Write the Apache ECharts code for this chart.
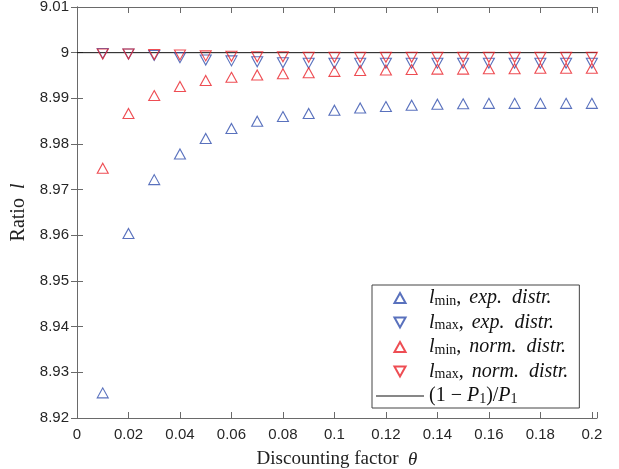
<!DOCTYPE html>
<html>
<head>
<meta charset="utf-8">
<script src="https://cdn.jsdelivr.net/npm/echarts@6/dist/echarts.min.js"></script>
<style>
  html, body { margin: 0; padding: 0; background: #fff; }
  #chart { width: 619px; height: 469px; }
</style>
</head>
<body>
<div id="chart"></div>
<script>
var theta = [0.01, 0.02, 0.03, 0.04, 0.05, 0.06, 0.07, 0.08, 0.09, 0.10,
             0.11, 0.12, 0.13, 0.14, 0.15, 0.16, 0.17, 0.18, 0.19, 0.20];
var lminExp = [8.9255, 8.9604, 8.9722, 8.9778, 8.9812, 8.9834, 8.9850, 8.9860, 8.9867, 8.9874,
               8.9879, 8.9882, 8.9885, 8.9887, 8.9888, 8.9889, 8.9889, 8.9889, 8.9889, 8.9889];
var lmaxExp = [8.9998, 8.9997, 8.9994, 8.9989, 8.9984, 8.9982, 8.9980, 8.9978, 8.9977, 8.9977,
               8.9977, 8.9977, 8.9977, 8.9977, 8.9977, 8.9977, 8.9977, 8.9977, 8.9977, 8.9977];
var lminNorm = [8.9747, 8.9867, 8.9906, 8.9926, 8.9939, 8.9946, 8.9951, 8.9954, 8.9956, 8.9959,
                8.9961, 8.9962, 8.9963, 8.9964, 8.9964, 8.9965, 8.9965, 8.9966, 8.9966, 8.9966];
var lmaxNorm = [8.9997, 8.9997, 8.9996, 8.9995, 8.9993, 8.9992, 8.9991, 8.9991, 8.9990, 8.9990,
                8.9990, 8.9990, 8.9990, 8.9990, 8.9990, 8.9990, 8.9990, 8.9990, 8.9990, 8.9990];
var refValue = 9;          // (1 - P1) / P1
var xRange = [0, 0.202];
var yRange = [8.92, 9.01];

var blue = '#2f4eac';
var red = '#ea2028';
var axisColor = '#6a6a6a';
var serif = '"Liberation Serif", "DejaVu Serif", serif';
var sans = '"Liberation Sans", Arial, sans-serif';

var upIcon = 'path://M5,0L10,9L0,9Z';
var downIcon = 'path://M0,0L10,0L5,9Z';
var lineIcon = 'path://M0,0L48,0L48,1L0,1Z';

function pairs(xs, ys) {
  return xs.map(function (x, i) { return [x, ys[i]]; });
}

var legendText = {
  lminExp: '{l|l}{sub|min}{c|,}{g|exp.}{i|distr.}',
  lmaxExp: '{l|l}{sub|max}{c|,}{g|exp.}{i|distr.}',
  lminNorm: '{l|l}{sub|min}{c|,}{g|norm.}{i|distr.}',
  lmaxNorm: '{l|l}{sub|max}{c|,}{g|norm.}{i|distr.}',
  ref: '{n|(1 − }{i|P}{sub|1}{n|)/}{i|P}{sub|1}'
};

function triangles(name, ys, color, down) {
  return {
    name: name,
    type: 'scatter',
    data: pairs(theta, ys),
    symbol: 'triangle',
    symbolSize: [11, 10],
    symbolRotate: down ? 180 : 0,
    itemStyle: { color: 'rgba(0,0,0,0)', borderColor: color, borderWidth: 1.1 },
    emphasis: { disabled: true }
  };
}

var chart = echarts.init(document.getElementById('chart'));
var option = {
  animation: false,
  grid: { left: 77, right: 22, top: 7, bottom: 51, outerBoundsMode: 'none', containLabel: false },
  xAxis: [{
    type: 'value', min: xRange[0], max: xRange[1], interval: 0.02,
    name: '{n|Discounting factor  }{i|θ}', nameLocation: 'middle', nameGap: 32,
    nameTextStyle: {
      rich: {
        n: { fontFamily: serif, fontSize: 19, color: '#222' },
        i: { fontFamily: serif, fontSize: 19, fontStyle: 'italic', color: '#222' }
      }
    },
    axisLine: { lineStyle: { color: axisColor, width: 1 } },
    axisTick: { inside: true, length: 6, lineStyle: { color: axisColor } },
    splitLine: { show: false },
    axisLabel: {
      margin: 9, fontFamily: sans, fontSize: 15, color: '#262626',
      formatter: function (v) {
        var k = Math.round(v / 0.02);
        if (Math.abs(v - k * 0.02) > 1e-6) return '';
        return String(+v.toFixed(2));
      }
    }
  }, {
    type: 'value', position: 'top', min: xRange[0], max: xRange[1], interval: 0.02,
    axisLine: { show: true, lineStyle: { color: axisColor, width: 1 } },
    axisTick: { show: true, inside: true, length: 6, lineStyle: { color: axisColor } },
    axisLabel: { show: false },
    splitLine: { show: false }
  }],
  yAxis: [{
    type: 'value', min: yRange[0], max: yRange[1], interval: 0.01,
    name: '{n|Ratio}{i|l}', nameLocation: 'middle', nameGap: 37,
    nameTextStyle: {
      rich: {
        n: { fontFamily: serif, fontSize: 20, color: '#222', padding: [0, 9, 0, 0] },
        i: { fontFamily: serif, fontSize: 20, fontStyle: 'italic', color: '#222' }
      }
    },
    axisLine: { show: true, lineStyle: { color: axisColor, width: 1 } },
    axisTick: { show: true, inside: true, length: 6, lineStyle: { color: axisColor } },
    splitLine: { show: false },
    axisLabel: { margin: 8, fontFamily: sans, fontSize: 15, color: '#262626' }
  }, {
    type: 'value', position: 'right', min: yRange[0], max: yRange[1], interval: 0.01,
    axisLine: { show: true, lineStyle: { color: axisColor, width: 1 } },
    axisTick: { show: true, inside: true, length: 6, lineStyle: { color: axisColor } },
    axisLabel: { show: false },
    splitLine: { show: false }
  }],
  legend: {
    orient: 'vertical',
    left: 372, top: 285,
    padding: [3, 11, 2, 4],
    itemWidth: 48, itemHeight: 10, itemGap: 4.5,
    symbolKeepAspect: true,
    backgroundColor: '#fff',
    borderColor: '#444', borderWidth: 1, borderRadius: 0,
    selectedMode: false,
    data: [
      { name: 'lminExp', icon: upIcon },
      { name: 'lmaxExp', icon: downIcon },
      { name: 'lminNorm', icon: upIcon },
      { name: 'lmaxNorm', icon: downIcon },
      { name: 'ref', icon: lineIcon }
    ],
    formatter: function (name) { return legendText[name]; },
    textStyle: {
      color: '#111',
      rich: {
        n: { fontFamily: serif, fontSize: 20, lineHeight: 20, color: '#111' },
        l: { fontFamily: serif, fontSize: 20, lineHeight: 20, fontStyle: 'italic', color: '#111' },
        c: { fontFamily: serif, fontSize: 20, lineHeight: 20, color: '#111', padding: [0, 8, 0, 0] },
        g: { fontFamily: serif, fontSize: 20, lineHeight: 20, fontStyle: 'italic', color: '#111', padding: [0, 10, 0, 0] },
        i: { fontFamily: serif, fontSize: 20, lineHeight: 20, fontStyle: 'italic', color: '#111' },
        sub: { fontFamily: serif, fontSize: 14, lineHeight: 13, color: '#111', padding: [6, 0, 0, 0] }
      }
    }
  },
  series: [
    triangles('lminExp', lminExp, blue, false),
    triangles('lmaxExp', lmaxExp, blue, true),
    triangles('lminNorm', lminNorm, red, false),
    triangles('lmaxNorm', lmaxNorm, red, true),
    {
      name: 'ref',
      type: 'line',
      data: xRange.map(function (x) { return [x, refValue]; }),
      symbol: 'none',
      lineStyle: { color: '#111', width: 1 },
      itemStyle: { color: '#111' },
      z: 1,
      emphasis: { disabled: true }
    }
  ]
};
chart.setOption(option);
</script>
</body>
</html>
